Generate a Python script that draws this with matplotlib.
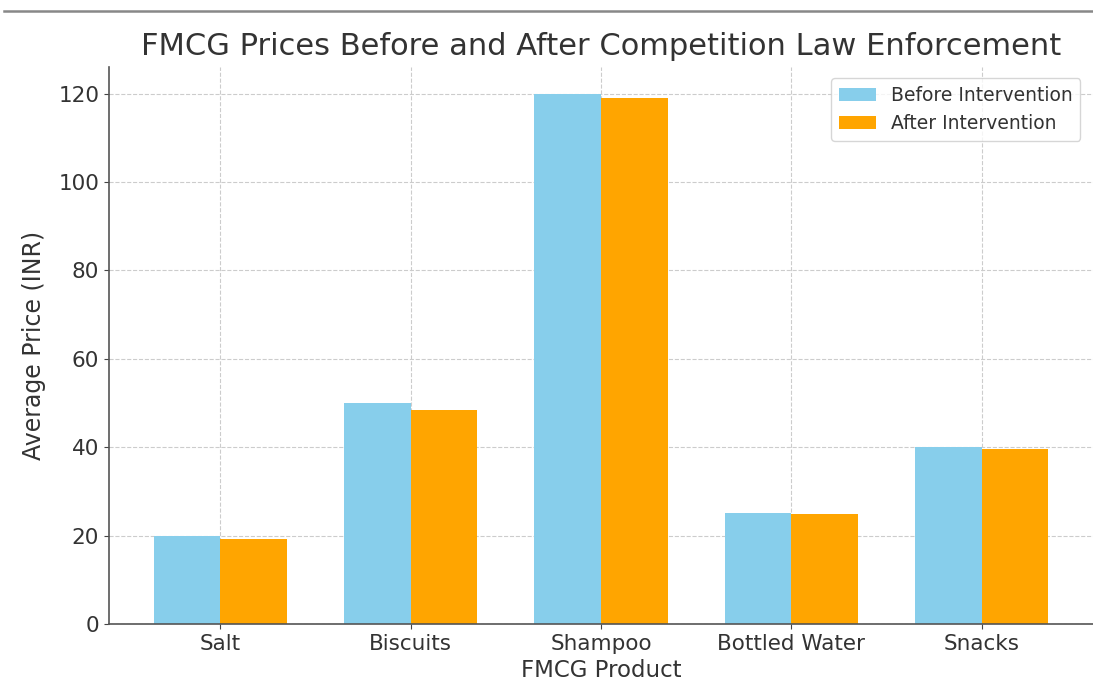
import matplotlib
matplotlib.use("Agg")
import matplotlib.pyplot as plt
import numpy as np
from matplotlib.lines import Line2D

products = ["Salt", "Biscuits", "Shampoo", "Bottled Water", "Snacks"]
before = [20, 50, 120, 25, 40]
after = [19.2, 48.5, 119, 24.8, 39.6]
series_labels = ["Before Intervention", "After Intervention"]

plt.rcParams['font.family'] = ['DejaVu Sans']
text_color = '#333333'

fig = plt.figure(figsize=(10.93, 6.81), dpi=100)
ax = fig.add_axes([0.0997, 0.0837, 0.9003, 0.8179])

x = np.arange(len(products))
w = 0.35
ax.bar(x - w/2, before, w, color='skyblue', label=series_labels[0], zorder=2)
ax.bar(x + w/2, after, w, color='orange', label=series_labels[1], zorder=2)

ax.set_xticks(x)
ax.set_xticklabels(products)
ax.set_title("FMCG Prices Before and After Competition Law Enforcement",
             fontsize=22, color=text_color, pad=9)
ax.set_xlabel("FMCG Product", fontsize=16.5, color=text_color, labelpad=4)
ax.set_ylabel("Average Price (INR)", fontsize=17, color=text_color, labelpad=9)
ax.tick_params(axis='both', labelsize=15.5, colors='#444444', labelcolor=text_color)
ax.grid(True, linestyle='--', color='#cccccc', linewidth=0.8, zorder=0)
ax.set_axisbelow(True)
for s in ['top', 'right']:
    ax.spines[s].set_visible(False)
for s in ['left', 'bottom']:
    ax.spines[s].set_color('#555555')
    ax.spines[s].set_linewidth(1.2)

leg = ax.legend(loc='upper right', fontsize=13.5, frameon=True,
                bbox_to_anchor=(0.9985, 1.0), borderaxespad=0.6)
for t in leg.get_texts():
    t.set_color(text_color)

fig.add_artist(Line2D([0.004, 1.0], [1 - 11/681, 1 - 11/681],
                      transform=fig.transFigure, color='#888888', linewidth=1.8))

fig.savefig("out.png", dpi=100)
